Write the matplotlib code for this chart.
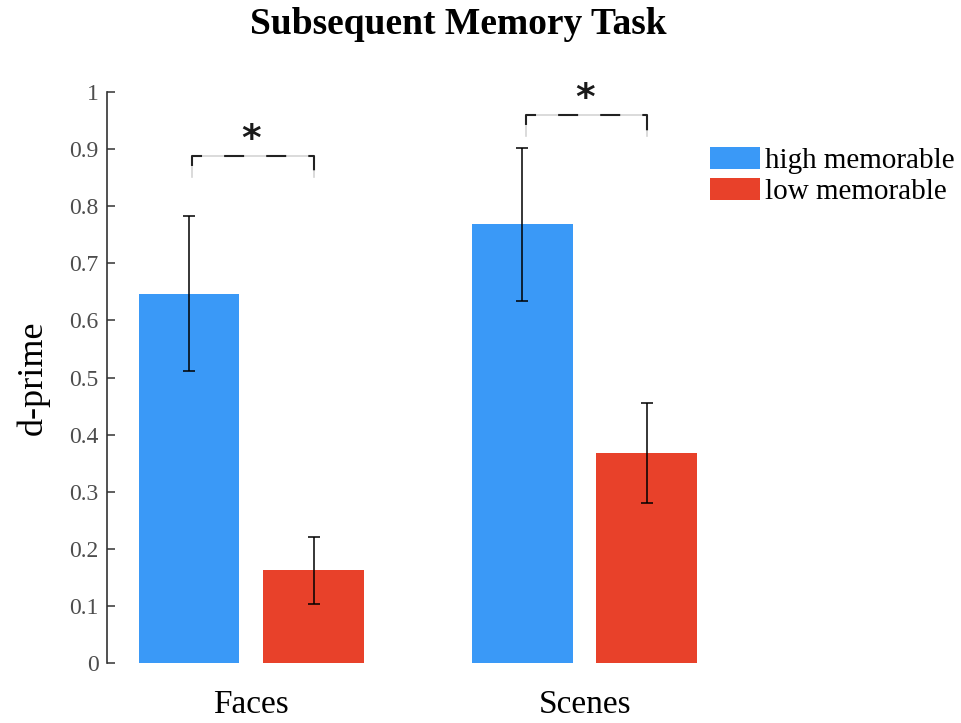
import numpy as np
import matplotlib
matplotlib.use("Agg")
import matplotlib.pyplot as plt
from matplotlib.patches import Patch

plt.rcParams["font.family"] = ["Liberation Serif", "DejaVu Serif"]

# d-prime means and SEM per stimulus category
categories = ["Faces", "Scenes"]
conditions = ["high memorable", "low memorable"]
high_mean  = [0.647, 0.768]
high_err   = [0.136, 0.134]
low_mean   = [0.162, 0.368]
low_err    = [0.059, 0.087]
bracket_y  = [0.888, 0.960]

BLUE = "#3a99f7"
RED  = "#e8412a"

fig = plt.figure(figsize=(9.62, 7.23), dpi=100)
ax = fig.add_axes([107 / 962, 60 / 723, 622 / 962, 571 / 723])

x      = np.arange(1, len(categories) + 1)
offset = 0.187
width  = 0.303

err_kw = dict(ecolor="black", elinewidth=1.1, capsize=4, capthick=1.1)
ax.bar(x - offset, high_mean, width, color=BLUE, yerr=high_err, error_kw=err_kw)
ax.bar(x + offset, low_mean, width, color=RED, yerr=low_err, error_kw=err_kw)

# significance brackets between the two conditions
leg = 0.037
for xi, yb in zip(x, bracket_y):
    xs = [xi - offset + 0.01, xi - offset + 0.01, xi + offset, xi + offset]
    ys = [yb - leg, yb, yb, yb - leg]
    ax.plot(xs, ys, color="#d4d4d4", lw=1.2, clip_on=False)
    ax.plot(xs, ys, color="#222222", lw=1.5, linestyle=(14.9, (9.6, 10.6)),
            solid_joinstyle="miter", clip_on=False)
    ax.text(xi, yb + 0.010, "*", ha="center", va="baseline", fontsize=27,
            fontweight="bold", family="DejaVu Sans", color="#1a1a1a", clip_on=False)

ax.set_xlim(0.567, 2.433)
ax.set_ylim(0, 1)
ax.set_yticks(np.arange(0, 1.01, 0.1))
ax.set_yticklabels(["0", "0.1", "0.2", "0.3", "0.4", "0.5", "0.6", "0.7", "0.8", "0.9", "1"])
ax.set_xticks(x)
ax.set_xticklabels(categories, fontsize=24)

for side in ["top", "right", "bottom"]:
    ax.spines[side].set_visible(False)
ax.spines["left"].set_color("#333333")
ax.spines["left"].set_linewidth(1.2)
ax.tick_params(axis="y", direction="in", length=6, width=1.1, color="#333333",
               labelsize=17, labelcolor="#4d4d4d", pad=6)
ax.tick_params(axis="x", length=0, pad=19, labelcolor="black")

fig.text(33 / 962, 1 - 378 / 723, "d-prime", rotation=90, ha="center", va="center",
         fontsize=26)
fig.text(458 / 962, 1 - 24 / 723, "Subsequent Memory Task", ha="center", va="center",
         fontsize=27, fontweight="bold")

handles = [Patch(facecolor=BLUE, edgecolor="none"), Patch(facecolor=RED, edgecolor="none")]
fig.legend(handles, conditions, loc="upper left", bbox_to_anchor=(710 / 962, 1 - 147 / 723),
           frameon=False, fontsize=21, handlelength=1.7, handleheight=0.76,
           handletextpad=0.2, labelspacing=0.15, borderpad=0, borderaxespad=0)

fig.savefig("out.png", dpi=100)
